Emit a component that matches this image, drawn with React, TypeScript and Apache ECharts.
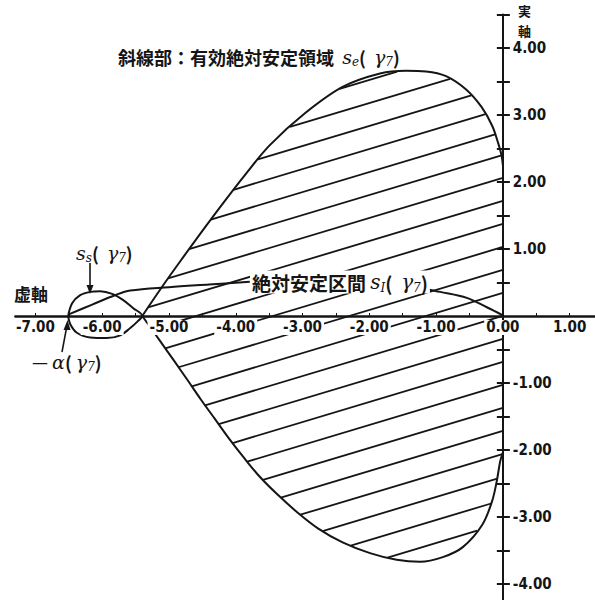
import React, { useEffect, useRef } from "react";
import * as echarts from "echarts";

const upperEdge: [number, number][] = [
  [-5.4, 0], [-5.1, 0.44], [-4.8, 0.86], [-4.5, 1.27], [-4.2, 1.67],
  [-3.89, 2.07], [-3.49, 2.55], [-2.96, 3.03], [-2.4, 3.42], [-1.84, 3.62],
  [-1.45, 3.66], [-1.15, 3.65], [-0.85, 3.58], [-0.55, 3.38], [-0.32, 3.12],
  [-0.16, 2.84], [-0.07, 2.58], [-0.02, 2.4], [0, 2.25],
];
const lowerEdge: [number, number][] = [
  [-5.4, 0], [-5.15, -0.35], [-4.93, -0.66], [-4.72, -0.96], [-4.52, -1.25],
  [-4.31, -1.54], [-4.1, -1.83], [-3.89, -2.1], [-3.64, -2.4], [-3.37, -2.67],
  [-3.08, -2.93], [-2.77, -3.17], [-2.4, -3.38], [-1.99, -3.54], [-1.59, -3.64],
  [-1.24, -3.67], [-0.9, -3.6], [-0.6, -3.45], [-0.31, -3.12], [-0.16, -2.76],
  [-0.09, -2.46], [-0.04, -2.17], [0, -2.04],
];
const loopUpper: [number, number][] = [
  [-6.51, 0], [-6.45, 0.19], [-6.33, 0.31], [-6.18, 0.36], [-6.03, 0.37],
  [-5.85, 0.33], [-5.69, 0.24], [-5.54, 0.12], [-5.4, 0],
];
const loopLower: [number, number][] = [
  [-6.51, 0], [-6.48, -0.12], [-6.38, -0.25], [-6.18, -0.32], [-5.93, -0.33],
  [-5.73, -0.29], [-5.58, -0.18], [-5.47, -0.08], [-5.4, 0],
];
const intervalLeft: [number, number][] = [
  [-6.51, 0.02], [-6.15, 0.17], [-5.81, 0.31], [-5.58, 0.38], [-5.0, 0.43],
  [-4.4, 0.47], [-3.79, 0.51],
];
const intervalRight: [number, number][] = [
  [-1.14, 0.4], [-0.94, 0.36], [-0.54, 0.27], [-0.24, 0.13], [0, 0.01],
];
const xLabelValues = [-7, -6, -5, -4, -3, -2, -1, 0, 1];
const xTickValues = [-7, -6.5, -6, -5.5, -5, -4.5, -4, -3.5, -3, -2.5, -2, -1.5, -1, -0.5, 0, 0.5, 1];
const yLabelValues = [-4, -3, -2, -1, 1, 2, 3, 4];
const yTickValues = [-4, -3.5, -3, -2.5, -2, -1.5, -1, -0.5, 0.5, 1, 1.5, 2, 2.5, 3, 3.5, 4, 4.5];

// closed region: upper edge, down the imaginary axis, lower edge back to the cusp
const regionPolygon: [number, number][] = [...upperEdge, ...lowerEdge.slice().reverse()];

const X_MIN = -7.3;
const X_MAX = 1.38;
const Y_MIN = -4.25;
const Y_MAX = 4.5;

// layout (pixels)
const G_LEFT = 15.4;
const G_TOP = 14.5;
const G_W = 579.6;
const G_H = 586.2;
const zeroX = G_LEFT + ((0 - X_MIN) / (X_MAX - X_MIN)) * G_W;
const zeroY = G_TOP + ((Y_MAX - 0) / (Y_MAX - Y_MIN)) * G_H;

const INK = "#151515";
const NUM_FONT = "'Liberation Sans Narrow', 'DejaVu Sans Condensed', sans-serif";
const JP_FONT = "'Noto Sans CJK JP', sans-serif";
const MATH_FONT = "'DejaVu Serif', serif";

const mathRich = (size: number, weight: string) => ({
  t: { fontFamily: JP_FONT, fontSize: size, fontWeight: weight, fill: INK, lineHeight: size + 4 },
  d: { fontFamily: "'DejaVu Sans', sans-serif", fontSize: size - 2, fill: INK, lineHeight: size + 4 },
  i: { fontFamily: MATH_FONT, fontStyle: "italic", fontSize: size + 1, fill: INK, lineHeight: size + 4 },
  b: { fontFamily: MATH_FONT, fontStyle: "italic", fontSize: Math.round(size * 0.65), fill: INK, verticalAlign: "bottom", lineHeight: size + 4 },
});

export default function App() {
  const ref = useRef<HTMLDivElement>(null);
  useEffect(() => {
    if (!ref.current) return;
    const chart = echarts.init(ref.current, undefined, { renderer: "svg" });
    const curve = (data: [number, number][]) => ({
      type: "line",
      data,
      showSymbol: false,
      smooth: 0.35,
      z: 4,
      lineStyle: { color: INK, width: 2 },
    });
    const option: any = {
      animation: false,
      backgroundColor: "#ffffff",
      grid: { left: G_LEFT, top: G_TOP, width: G_W, height: G_H, containLabel: false, outerBoundsMode: "none" },
      xAxis: {
        type: "value",
        position: "bottom",
        min: X_MIN,
        max: X_MAX,
        offset: -(G_TOP + G_H - zeroY),
        z: 10,
        axisLine: { onZero: false, lineStyle: { color: INK, width: 2.5 } },
        axisTick: { show: true, inside: true, length: 3, customValues: xTickValues, lineStyle: { color: INK, width: 1 } },
        splitLine: { show: false },
        axisLabel: {
          customValues: xLabelValues,
          formatter: (v: number) => v.toFixed(2),
          margin: 4,
          color: INK,
          fontFamily: NUM_FONT,
          fontWeight: "bold",
          fontSize: 15,
          backgroundColor: "#ffffff",
          padding: [0, 2, 0, 2],
        },
      },
      yAxis: [
        {
          type: "value",
          position: "right",
          min: Y_MIN,
          max: Y_MAX,
          offset: -(G_LEFT + G_W - zeroX),
          z: 10,
          axisLine: { onZero: false, lineStyle: { color: INK, width: 2 } },
          axisTick: { show: true, length: 7, customValues: yTickValues, lineStyle: { color: INK, width: 2 } },
          splitLine: { show: false },
          axisLabel: {
            customValues: yLabelValues,
            formatter: (v: number) => v.toFixed(2),
            margin: 10,
            color: INK,
            fontFamily: NUM_FONT,
            fontWeight: "bold",
            fontSize: 15,
          },
        },
        {
          type: "value",
          position: "left",
          min: Y_MIN,
          max: Y_MAX,
          offset: -(zeroX - G_LEFT),
          z: 10,
          axisLine: { show: false, onZero: false },
          axisTick: { show: true, length: 6, customValues: yTickValues, lineStyle: { color: INK, width: 2 } },
          splitLine: { show: false },
          axisLabel: { show: false },
        },
      ],
      series: [
        {
          type: "custom",
          coordinateSystem: "cartesian2d",
          data: [[0, 0]],
          z: 3,
          silent: true,
          renderItem: (_params: any, api: any) => {
            const poly = regionPolygon.map((p) => api.coord(p));
            const origin = api.coord([0, 0]);
            const s = 0.3; // hatch slope (pixels, rising to the right)
            const d = 23; // vertical spacing
            const c0 = origin[1] + s * origin[0] - 46;
            const cs = poly.map((p: number[]) => p[1] + s * p[0]);
            const kmin = Math.ceil((Math.min(...cs) - c0) / d);
            const kmax = Math.floor((Math.max(...cs) - c0) / d);
            const children: any[] = [];
            for (let k = kmin; k <= kmax; k++) {
              const c = c0 + k * d;
              const xs: number[] = [];
              for (let i = 0; i < poly.length; i++) {
                const a = poly[i];
                const b = poly[(i + 1) % poly.length];
                const fa = a[1] + s * a[0] - c;
                const fb = b[1] + s * b[0] - c;
                if ((fa < 0) !== (fb < 0)) {
                  const t = fa / (fa - fb);
                  xs.push(a[0] + t * (b[0] - a[0]));
                }
              }
              xs.sort((m, n) => m - n);
              for (let j = 0; j + 1 < xs.length; j += 2) {
                children.push({
                  type: "line",
                  shape: { x1: xs[j], y1: c - s * xs[j], x2: xs[j + 1], y2: c - s * xs[j + 1] },
                  style: { stroke: INK, lineWidth: 1.8 },
                });
              }
            }
            return { type: "group", children };
          },
        },
        curve(upperEdge),
        curve(lowerEdge),
        curve([...loopUpper, ...loopLower.slice().reverse()]),
        curve(intervalLeft),
        curve(intervalRight),
      ],
      graphic: [
        {
          type: "text",
          z: 100,
          x: 118,
          y: 57,
          style: {
            text: "{t|斜線部：有効絶対安定領域  }{i|s}{b|e}{t|(  }{i|γ}{b|7}{t|)}",
            rich: mathRich(18, "bold"),
            verticalAlign: "middle",
          },
        },
        {
          type: "text",
          z: 100,
          x: 250,
          y: 282,
          style: {
            text: "{t|絶対安定区間 }{i|s}{b|I}{t|(  }{i|γ}{b|7}{t|)}",
            rich: mathRich(19, "bold"),
            verticalAlign: "middle",
            backgroundColor: "#ffffff",
            padding: [0, 2, 0, 2],
          },
        },
        {
          type: "text",
          z: 100,
          x: 76,
          y: 253,
          style: {
            text: "{i|s}{b|s}{t|(  }{i|γ}{b|7}{t|)}",
            rich: mathRich(18, "bold"),
            verticalAlign: "middle",
          },
        },
        {
          type: "text",
          z: 100,
          x: 32,
          y: 362,
          style: {
            text: "{d|—}{t| }{i|α}{t|( }{i|γ}{b|7}{t|)}",
            rich: mathRich(18, "bold"),
            verticalAlign: "middle",
          },
        },
        {
          type: "text",
          z: 100,
          x: 14,
          y: 293,
          style: { text: "虚軸", fontFamily: JP_FONT, fontSize: 17, fontWeight: "bold", fill: INK, verticalAlign: "middle" },
        },
        {
          type: "text",
          z: 100,
          x: 518,
          y: 10,
          style: { text: "実", fontFamily: JP_FONT, fontSize: 13, lineHeight: 13, fontWeight: "bold", fill: INK, verticalAlign: "middle" },
        },
        {
          type: "text",
          z: 100,
          x: 518,
          y: 30,
          style: { text: "軸", fontFamily: JP_FONT, fontSize: 13, lineHeight: 13, fontWeight: "bold", fill: INK, verticalAlign: "middle" },
        },
        // arrow to the small loop
        { type: "line", z: 100, shape: { x1: 90, y1: 263, x2: 90, y2: 288 }, style: { stroke: INK, lineWidth: 1.6 } },
        { type: "polygon", z: 100, shape: { points: [[90, 294], [86.5, 285], [93.5, 285]] }, style: { fill: INK } },
        // arrow to -alpha
        { type: "line", z: 100, shape: { x1: 62, y1: 352, x2: 66.5, y2: 328 }, style: { stroke: INK, lineWidth: 1.6 } },
        { type: "polygon", z: 100, shape: { points: [[67.5, 320], [63.5, 330], [70.5, 330]] }, style: { fill: INK } },
      ],
    };
    chart.setOption(option);
    return () => chart.dispose();
  }, []);
  return (
    <div
      ref={ref}
      style={{ position: "absolute", left: 0, top: 0, width: 595, height: 600, background: "#fff" }}
    />
  );
}
